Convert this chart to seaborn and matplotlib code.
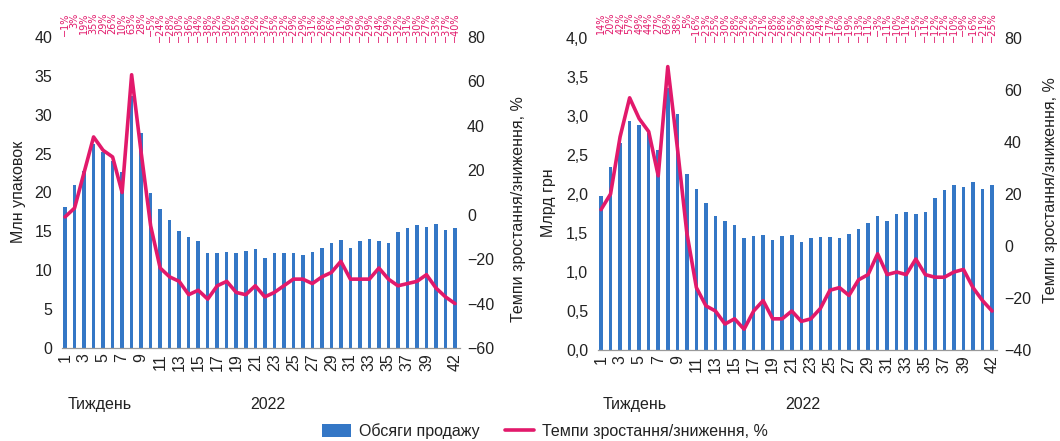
import matplotlib
matplotlib.use("Agg")
import numpy as np
import pandas as pd
import seaborn as sns
import matplotlib.pyplot as plt
from matplotlib.transforms import blended_transform_factory
from matplotlib.patches import Patch
from matplotlib.lines import Line2D

# Weekly pharmacy sales, 2022
weeks = list(range(1, 43))
tick_weeks = list(range(1, 40, 2)) + [42]

packs_mln = [18.1, 21.0, 22.8, 26.2, 25.2, 24.0, 22.7, 32.4, 27.7, 19.9,
             17.9, 16.4, 15.0, 14.3, 13.7, 12.2, 12.2, 12.4, 12.2, 12.5,
             12.7, 11.6, 12.2, 12.2, 12.2, 11.9, 12.4, 12.9, 13.5, 13.9,
             12.9, 13.7, 14.0, 13.8, 13.5, 14.9, 15.4, 15.8, 15.6, 15.9,
             15.2, 15.4]
packs_growth = [-1, 3, 19, 35, 29, 26, 10, 63, 28, -5,
                -24, -28, -30, -36, -34, -38, -32, -30, -35, -36,
                -32, -37, -35, -32, -29, -29, -31, -28, -26, -21,
                -29, -29, -29, -24, -29, -32, -31, -30, -27, -33,
                -37, -40]

sales_bln = [1.97, 2.35, 2.65, 2.94, 2.88, 2.78, 2.57, 3.36, 3.02, 2.26,
             2.06, 1.88, 1.72, 1.66, 1.60, 1.43, 1.46, 1.47, 1.41, 1.46,
             1.47, 1.39, 1.43, 1.45, 1.45, 1.43, 1.49, 1.55, 1.63, 1.72,
             1.65, 1.75, 1.77, 1.74, 1.77, 1.95, 2.05, 2.11, 2.09, 2.16,
             2.07, 2.11]
sales_growth = [14, 20, 42, 57, 49, 44, 27, 69, 38, 5,
                -16, -23, -25, -30, -28, -32, -25, -21, -28, -28,
                -25, -29, -28, -24, -17, -16, -19, -13, -11, -3,
                -11, -10, -11, -5, -11, -12, -12, -10, -9, -16,
                -21, -25]

BLUE = "#3477c6"
PINK = "#e2196b"
TEXT = "#222222"
FS = 11.5

sns.set_theme(style="white")
plt.rcParams["font.family"] = ["Liberation Sans", "DejaVu Sans"]
plt.rcParams["text.color"] = TEXT
plt.rcParams["xtick.color"] = TEXT
plt.rcParams["ytick.color"] = TEXT

fig = plt.figure(figsize=(10.6, 4.41), dpi=100)
ax_left = fig.add_axes([0.0585, 0.2109, 0.3755, 0.7052])
ax_right = fig.add_axes([0.5642, 0.2063, 0.3764, 0.7075])


def minus(s):
    return s.replace("-", "\u2212")


def draw_panel(ax, volume, growth, vol_ticks, vol_labels, gr_ticks, xlim):
    df = pd.DataFrame({"week": weeks, "volume": volume, "growth": growth})
    sns.barplot(data=df, x="week", y="volume", native_scale=True, width=0.37,
                color=BLUE, saturation=1, edgecolor="none", ax=ax)
    axr = ax.twinx()
    sns.lineplot(data=df, x="week", y="growth", color=PINK, lw=2.6, ax=axr)

    ax.set_ylim(vol_ticks[0], vol_ticks[-1])
    ax.set_yticks(vol_ticks)
    ax.set_yticklabels(vol_labels, fontsize=FS)
    axr.set_ylim(gr_ticks[0], gr_ticks[-1])
    axr.set_yticks(gr_ticks)
    axr.set_yticklabels([minus(str(t)) for t in gr_ticks], fontsize=FS)

    ax.set_xticks(tick_weeks)
    ax.set_xticklabels([str(w) for w in tick_weeks], rotation=90, fontsize=FS)
    ax.set_xlim(*xlim)

    for a in (ax, axr):
        a.set_xlabel("")
        a.set_ylabel("")
        for side in ("left", "right", "top"):
            a.spines[side].set_visible(False)
    axr.spines["bottom"].set_visible(False)
    ax.spines["bottom"].set_color("#9a9a9a")
    ax.spines["bottom"].set_linewidth(0.9)
    ax.tick_params(axis="y", length=0, pad=7)
    ax.tick_params(axis="x", length=0, pad=4)
    axr.tick_params(axis="y", length=0, pad=5)

    # growth values printed along the top edge
    trans = blended_transform_factory(ax.transData, fig.transFigure)
    for w, g in zip(weeks, growth):
        ax.text(w, 0.972, minus(f"{g}%"), transform=trans, rotation=90,
                ha="center", va="top", fontsize=7, color=PINK,
                family="DejaVu Sans", clip_on=False)
    return axr


draw_panel(ax_left, packs_mln, packs_growth,
           list(range(0, 45, 5)), [str(v) for v in range(0, 45, 5)],
           list(range(-60, 100, 20)), (0.68, 42.53))

left_ticks = [i * 0.5 for i in range(9)]
draw_panel(ax_right, sales_bln, sales_growth,
           left_ticks, [f"{v:.1f}".replace(".", ",") for v in left_ticks],
           list(range(-40, 100, 20)), (0.69, 42.52))

# axis titles
fig.text(0.017, 0.565, "Млн упаковок", rotation=90, ha="center", va="center", fontsize=FS)
fig.text(0.4887, 0.526, "Темпи зростання/зниження, %", rotation=90,
         ha="center", va="center", fontsize=FS)
fig.text(0.517, 0.54, "Млрд грн", rotation=90, ha="center", va="center", fontsize=FS)
fig.text(0.9906, 0.569, "Темпи зростання/зниження, %", rotation=90,
         ha="center", va="center", fontsize=FS)

for x, s in [(0.094, "Тиждень"), (0.253, "2022"), (0.599, "Тиждень"), (0.757, "2022")]:
    fig.text(x, 0.082, s, ha="center", va="center", fontsize=FS)

handles = [Patch(facecolor=BLUE, edgecolor="none"),
           Line2D([0], [0], color=PINK, lw=2.6)]
fig.legend(handles, ["Обсяги продажу", "Темпи зростання/зниження, %"],
           loc="center", bbox_to_anchor=(0.514, 0.022), ncol=2, frameon=False,
           fontsize=FS, handlelength=1.8, handleheight=0.9,
           columnspacing=1.6, handletextpad=0.5)

fig.savefig("out.png", dpi=100)
